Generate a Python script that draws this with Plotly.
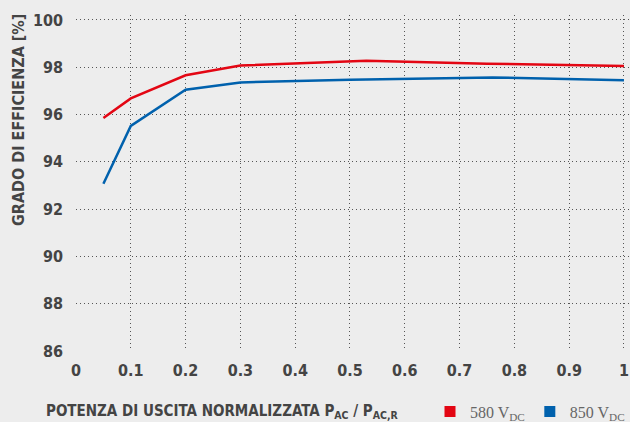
import plotly.graph_objects as go

x_580 = [0.05, 0.1, 0.2, 0.3, 0.53, 0.75, 1.0]
y_580 = [95.85, 96.68, 97.66, 98.07, 98.27, 98.15, 98.05]
x_850 = [0.05, 0.1, 0.2, 0.3, 0.5, 0.76, 1.0]
y_850 = [93.07, 95.52, 97.05, 97.36, 97.47, 97.57, 97.45]

x_ticks = [0, 0.1, 0.2, 0.3, 0.4, 0.5, 0.6, 0.7, 0.8, 0.9, 1.0]
x_ticklabels = ["0", "0.1", "0.2", "0.3", "0.4", "0.5", "0.6", "0.7", "0.8", "0.9", "1"]
y_ticks = [86, 88, 90, 92, 94, 96, 98, 100]

RED = "#e30613"
BLUE = "#0061ad"
TXT = "#444444"
GRID = "#555555"
FONT = "DejaVu Sans Condensed, sans-serif"

fig = go.Figure()
fig.add_trace(go.Scatter(x=x_580, y=y_580, mode="lines", line=dict(color=RED, width=2.5),
                         showlegend=False))
fig.add_trace(go.Scatter(x=x_850, y=y_850, mode="lines", line=dict(color=BLUE, width=2.5),
                         showlegend=False))
fig.add_trace(go.Scatter(x=[None], y=[None], mode="markers", name="580 V<sub>DC</sub>",
                         marker=dict(symbol="square", size=11, color=RED)))
fig.add_trace(go.Scatter(x=[None], y=[None], mode="markers", name="850 V<sub>DC</sub>",
                         marker=dict(symbol="square", size=11, color=BLUE)))

fig.update_layout(
    width=630, height=422,
    margin=dict(l=76, r=0, t=15, b=71, autoexpand=False),
    paper_bgcolor="#ededed", plot_bgcolor="#ededed",
    font=dict(family=FONT, color=TXT),
    legend=dict(orientation="h", x=1.0, xanchor="right", y=-0.18, yanchor="middle",
                font=dict(family="Liberation Serif, DejaVu Serif, serif", size=16, color="#666666"),
                itemwidth=30, tracegroupgap=0, bgcolor="rgba(0,0,0,0)"),
    annotations=[
        dict(text="POTENZA DI USCITA NORMALIZZATA P<sub>AC</sub> / P<sub>AC,R</sub>",
             xref="paper", yref="paper", x=-76/554 + 44/554, y=-0.18, xanchor="left", yanchor="middle",
             showarrow=False, font=dict(family=FONT, size=15, color=TXT, weight="bold")),
        dict(text="GRADO DI EFFICIENZA [%]", textangle=-90,
             xref="paper", yref="paper", x=-76/554 + 18/554, y=1 + 3/336,
             xanchor="center", yanchor="top",
             showarrow=False, font=dict(family=FONT, size=16, color=TXT, weight="bold")),
    ],
)
fig.update_xaxes(range=[0, 1.011], tickvals=x_ticks, ticktext=x_ticklabels,
                 showgrid=True, gridcolor=GRID, griddash="1px,3px", gridwidth=1.2,
                 zeroline=False, showline=False, ticks="", automargin=False,
                 tickfont=dict(family=FONT, size=16, color=TXT, weight="bold"),
                 ticklabelstandoff=8)
fig.update_yaxes(range=[86, 100.21], tickvals=y_ticks,
                 showgrid=True, gridcolor=GRID, griddash="1px,3px", gridwidth=1.2,
                 zeroline=False, showline=False, ticks="", automargin=False,
                 tickfont=dict(family=FONT, size=16, color=TXT, weight="bold"),
                 ticklabelstandoff=12)

fig.write_html("out.html", config={"displayModeBar": False},
               post_script="document.body.style.margin='0';document.body.style.padding='0';document.body.style.background='#ededed';")
